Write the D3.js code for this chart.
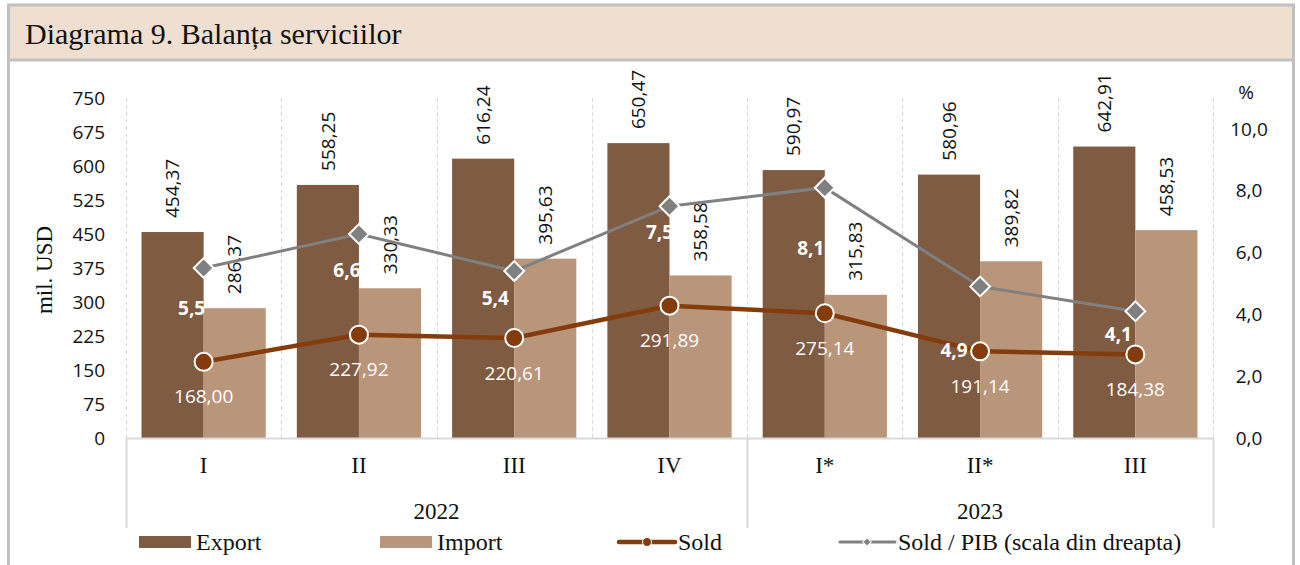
<!DOCTYPE html>
<html>
<head>
<meta charset="utf-8">
<script src="https://cdn.jsdelivr.net/npm/d3@7"></script>
<style>
  body { margin: 0; background: #fff; }
  svg { display: block; }
  .sans { font-family: "Open Sans", "Noto Sans", sans-serif; }
  .serif { font-family: "Liberation Serif", "DejaVu Serif", serif; }
</style>
</head>
<body>
<div id="chart"></div>
<script>
'use strict';

// data
var quarters = ['I', 'II', 'III', 'IV', 'I*', 'II*', 'III'];
var years = ['2022', '2022', '2022', '2022', '2023', '2023', '2023'];
var exportVals = [454.37, 558.25, 616.24, 650.47, 590.97, 580.96, 642.91];
var importVals = [286.37, 330.33, 395.63, 358.58, 315.83, 389.82, 458.53];
var soldVals = [168.00, 227.92, 220.61, 291.89, 275.14, 191.14, 184.38];
var soldPibVals = [5.5, 6.6, 5.4, 7.5, 8.1, 4.9, 4.1];
var leftTicks = [0, 75, 150, 225, 300, 375, 450, 525, 600, 675, 750];
var rightTicks = [0, 2, 4, 6, 8, 10];

// where the Sold / PIB labels were dragged to (offset from the marker)
var pibLabelShift = [[-12, 40], [-12, 36], [-19, 27], [-10, 26], [-14, 61], [-26, 64], [-17, 23]];

var W = 1300, H = 565;
var colExport = '#7f5b42', colImport = '#b9957a', colSold = '#843c0c', colPib = '#808080';
var gridCol = '#d9d9d9';

var fmt2 = function(v){ return v.toFixed(2).replace('.', ','); };
var fmt1 = function(v){ return v.toFixed(1).replace('.', ','); };

var svg = d3.select('#chart').append('svg')
    .attr('width', W)
    .attr('height', H);

// frame + title box
svg.append('line').attr('x1', 8.5).attr('x2', 8.5).attr('y1', 4).attr('y2', H)
    .attr('stroke', '#c0c0c0').attr('stroke-width', 3);
svg.append('line').attr('x1', 1293.5).attr('x2', 1293.5).attr('y1', 4).attr('y2', H)
    .attr('stroke', '#c0c0c0').attr('stroke-width', 3);
svg.append('rect')
    .attr('x', 8.5).attr('y', 5).attr('width', 1285).attr('height', 55)
    .attr('fill', '#efdfd1')
    .attr('stroke', '#c0c0c0').attr('stroke-width', 3);
svg.append('text')
    .attr('class', 'serif')
    .attr('x', 25).attr('y', 44)
    .style('font-size', '30px')
    .attr('fill', '#111')
    .text('Diagrama 9. Balanța serviciilor');

var plot = { left: 126, right: 1213, top: 98, bottom: 438 };

var x = d3.scaleBand()
    .domain(d3.range(quarters.length))
    .range([plot.left, plot.right])
    .padding(0);

var xIn = d3.scaleBand()
    .domain(['exp', 'imp'])
    .range([0, x.bandwidth()])
    .paddingInner(0)
    .paddingOuter(0.25);

var y = d3.scaleLinear().domain([0, 750]).range([plot.bottom, plot.top]);
var y2 = d3.scaleLinear().domain([0, 11]).range([plot.bottom, plot.top]);

// dashed vertical gridlines on category edges
var edges = d3.range(quarters.length + 1).map(function(i){
  return i < quarters.length ? x(i) : plot.right;
});
svg.append('g').selectAll('line')
  .data(edges)
  .join('line')
    .attr('x1', d => Math.round(d) + 0.5).attr('x2', d => Math.round(d) + 0.5)
    .attr('y1', plot.top).attr('y2', plot.bottom)
    .attr('stroke', gridCol)
    .attr('stroke-dasharray', '4,3');

// bars
var bars = svg.append('g');
bars.selectAll('rect.exp')
  .data(exportVals)
  .join('rect')
    .attr('class', 'exp')
    .attr('x', (d, i) => x(i) + xIn('exp'))
    .attr('width', xIn.bandwidth())
    .attr('y', d => y(d))
    .attr('height', d => y(0) - y(d))
    .attr('fill', colExport);
bars.selectAll('rect.imp')
  .data(importVals)
  .join('rect')
    .attr('class', 'imp')
    .attr('x', (d, i) => x(i) + xIn('imp'))
    .attr('width', xIn.bandwidth())
    .attr('y', d => y(d))
    .attr('height', d => y(0) - y(d))
    .attr('fill', colImport);

// x axis line
svg.append('line')
    .attr('x1', plot.left).attr('x2', plot.right)
    .attr('y1', plot.bottom + 0.5).attr('y2', plot.bottom + 0.5)
    .attr('stroke', gridCol).attr('stroke-width', 2);

// year separators below the axis
var yearGroups = d3.groups(d3.range(quarters.length), i => years[i]);
var sepX = [plot.left];
yearGroups.forEach(function(g){
  var last = g[1][g[1].length - 1];
  sepX.push(last < quarters.length - 1 ? x(last + 1) : plot.right);
});
svg.append('g').selectAll('line')
  .data(sepX)
  .join('line')
    .attr('x1', d => Math.round(d) + 0.5).attr('x2', d => Math.round(d) + 0.5)
    .attr('y1', plot.bottom).attr('y2', 528)
    .attr('stroke', gridCol).attr('stroke-width', 2);

// category + year labels
svg.append('g').selectAll('text')
  .data(quarters)
  .join('text')
    .attr('class', 'serif')
    .attr('x', (d, i) => x(i) + x.bandwidth() / 2)
    .attr('y', 473)
    .attr('text-anchor', 'middle')
    .style('font-size', '23px')
    .attr('fill', '#111')
    .text(d => d);
svg.append('g').selectAll('text')
  .data(yearGroups)
  .join('text')
    .attr('class', 'serif')
    .attr('x', function(g){
      var a = x(g[1][0]), b = x(g[1][g[1].length - 1]) + x.bandwidth();
      return (a + b) / 2;
    })
    .attr('y', 519)
    .attr('text-anchor', 'middle')
    .style('font-size', '23px')
    .attr('fill', '#111')
    .text(g => g[0]);

// left axis labels
svg.append('g').selectAll('text')
  .data(leftTicks)
  .join('text')
    .attr('class', 'sans')
    .attr('x', 105)
    .attr('y', d => y(d))
    .attr('dy', '0.35em')
    .attr('text-anchor', 'end')
    .style('font-size', '19px')
    .attr('fill', '#111')
    .text(d => d);

svg.append('text')
    .attr('class', 'serif')
    .attr('transform', 'translate(52,270) rotate(-90)')
    .attr('text-anchor', 'middle')
    .style('font-size', '23px')
    .attr('fill', '#111')
    .text('mil. USD');

// right axis labels
svg.append('g').selectAll('text')
  .data(rightTicks)
  .join('text')
    .attr('class', 'sans')
    .attr('x', 1249)
    .attr('y', d => y2(d))
    .attr('dy', '0.35em')
    .attr('text-anchor', 'middle')
    .style('font-size', '19px')
    .attr('fill', '#111')
    .text(d => fmt1(d));
svg.append('text')
    .attr('class', 'sans')
    .attr('x', 1246).attr('y', 92)
    .attr('dy', '0.35em')
    .attr('text-anchor', 'middle')
    .style('font-size', '19px')
    .attr('fill', '#111')
    .text('%');

// rotated value labels above bars
function barLabels(vals, key){
  svg.append('g').selectAll('text')
    .data(vals)
    .join('text')
      .attr('class', 'sans')
      .attr('transform', (d, i) => 'translate(' + (x(i) + xIn(key) + xIn.bandwidth() / 2) + ',' + (y(d) - 14) + ') rotate(-90)')
      .attr('dy', '0.35em')
      .style('font-size', '19px')
      .attr('fill', '#111')
      .text(d => fmt2(d));
}
barLabels(exportVals, 'exp');
barLabels(importVals, 'imp');

var cx = function(i){ return x(i) + x.bandwidth() / 2; };

// Sold / PIB line (right scale)
svg.append('path')
    .datum(soldPibVals)
    .attr('fill', 'none')
    .attr('stroke', colPib)
    .attr('stroke-width', 3)
    .attr('d', d3.line().x((d, i) => cx(i)).y(d => y2(d)));
svg.append('g').selectAll('path')
  .data(soldPibVals)
  .join('path')
    .attr('transform', (d, i) => 'translate(' + cx(i) + ',' + y2(d) + ') rotate(45)')
    .attr('d', 'M-7,-7H7V7H-7Z')
    .attr('fill', colPib)
    .attr('stroke', '#fff')
    .attr('stroke-width', 2);

// Sold line
svg.append('path')
    .datum(soldVals)
    .attr('fill', 'none')
    .attr('stroke', colSold)
    .attr('stroke-width', 4.5)
    .attr('d', d3.line().x((d, i) => cx(i)).y(d => y(d)));
svg.append('g').selectAll('circle')
  .data(soldVals)
  .join('circle')
    .attr('cx', (d, i) => cx(i))
    .attr('cy', d => y(d))
    .attr('r', 9)
    .attr('fill', colSold)
    .attr('stroke', '#fff')
    .attr('stroke-width', 2);

// Sold labels (white, under marker)
svg.append('g').selectAll('text')
  .data(soldVals)
  .join('text')
    .attr('class', 'sans')
    .attr('x', (d, i) => cx(i))
    .attr('y', d => y(d) + 35)
    .attr('dy', '0.35em')
    .attr('text-anchor', 'middle')
    .style('font-size', '19px')
    .attr('fill', '#fff')
    .text(d => fmt2(d));

// Sold / PIB labels (white bold)
svg.append('g').selectAll('text')
  .data(soldPibVals)
  .join('text')
    .attr('class', 'sans')
    .attr('x', (d, i) => cx(i) + pibLabelShift[i][0])
    .attr('y', (d, i) => y2(d) + pibLabelShift[i][1])
    .attr('dy', '0.35em')
    .attr('text-anchor', 'middle')
    .style('font-size', '19px')
    .style('font-weight', 'bold')
    .attr('fill', '#fff')
    .text(d => fmt1(d));

// legend
var legend = svg.append('g').attr('class', 'serif').style('font-size', '24px').attr('fill', '#111');
var ly = 542;
legend.append('rect').attr('x', 139).attr('y', ly - 6).attr('width', 52).attr('height', 12).attr('fill', colExport);
legend.append('text').attr('x', 196).attr('y', ly).attr('dy', '0.35em').text('Export');
legend.append('rect').attr('x', 380).attr('y', ly - 6).attr('width', 52).attr('height', 12).attr('fill', colImport);
legend.append('text').attr('x', 437).attr('y', ly).attr('dy', '0.35em').text('Import');
legend.append('line').attr('x1', 619).attr('x2', 675).attr('y1', ly).attr('y2', ly)
    .attr('stroke', colSold).attr('stroke-width', 4.5).attr('stroke-linecap', 'round');
legend.append('circle').attr('cx', 647).attr('cy', ly).attr('r', 4.5).attr('fill', colSold).attr('stroke', '#fff').attr('stroke-width', 1);
legend.append('text').attr('x', 678).attr('y', ly).attr('dy', '0.35em').text('Sold');
legend.append('line').attr('x1', 840).attr('x2', 895).attr('y1', ly).attr('y2', ly)
    .attr('stroke', colPib).attr('stroke-width', 3).attr('stroke-linecap', 'round');
legend.append('path').attr('transform', 'translate(867,' + ly + ') rotate(45)')
    .attr('d', 'M-3,-3H3V3H-3Z').attr('fill', colPib).attr('stroke', '#fff').attr('stroke-width', 1);
legend.append('text').attr('x', 898).attr('y', ly).attr('dy', '0.35em').text('Sold / PIB (scala din dreapta)');
</script>
</body>
</html>
